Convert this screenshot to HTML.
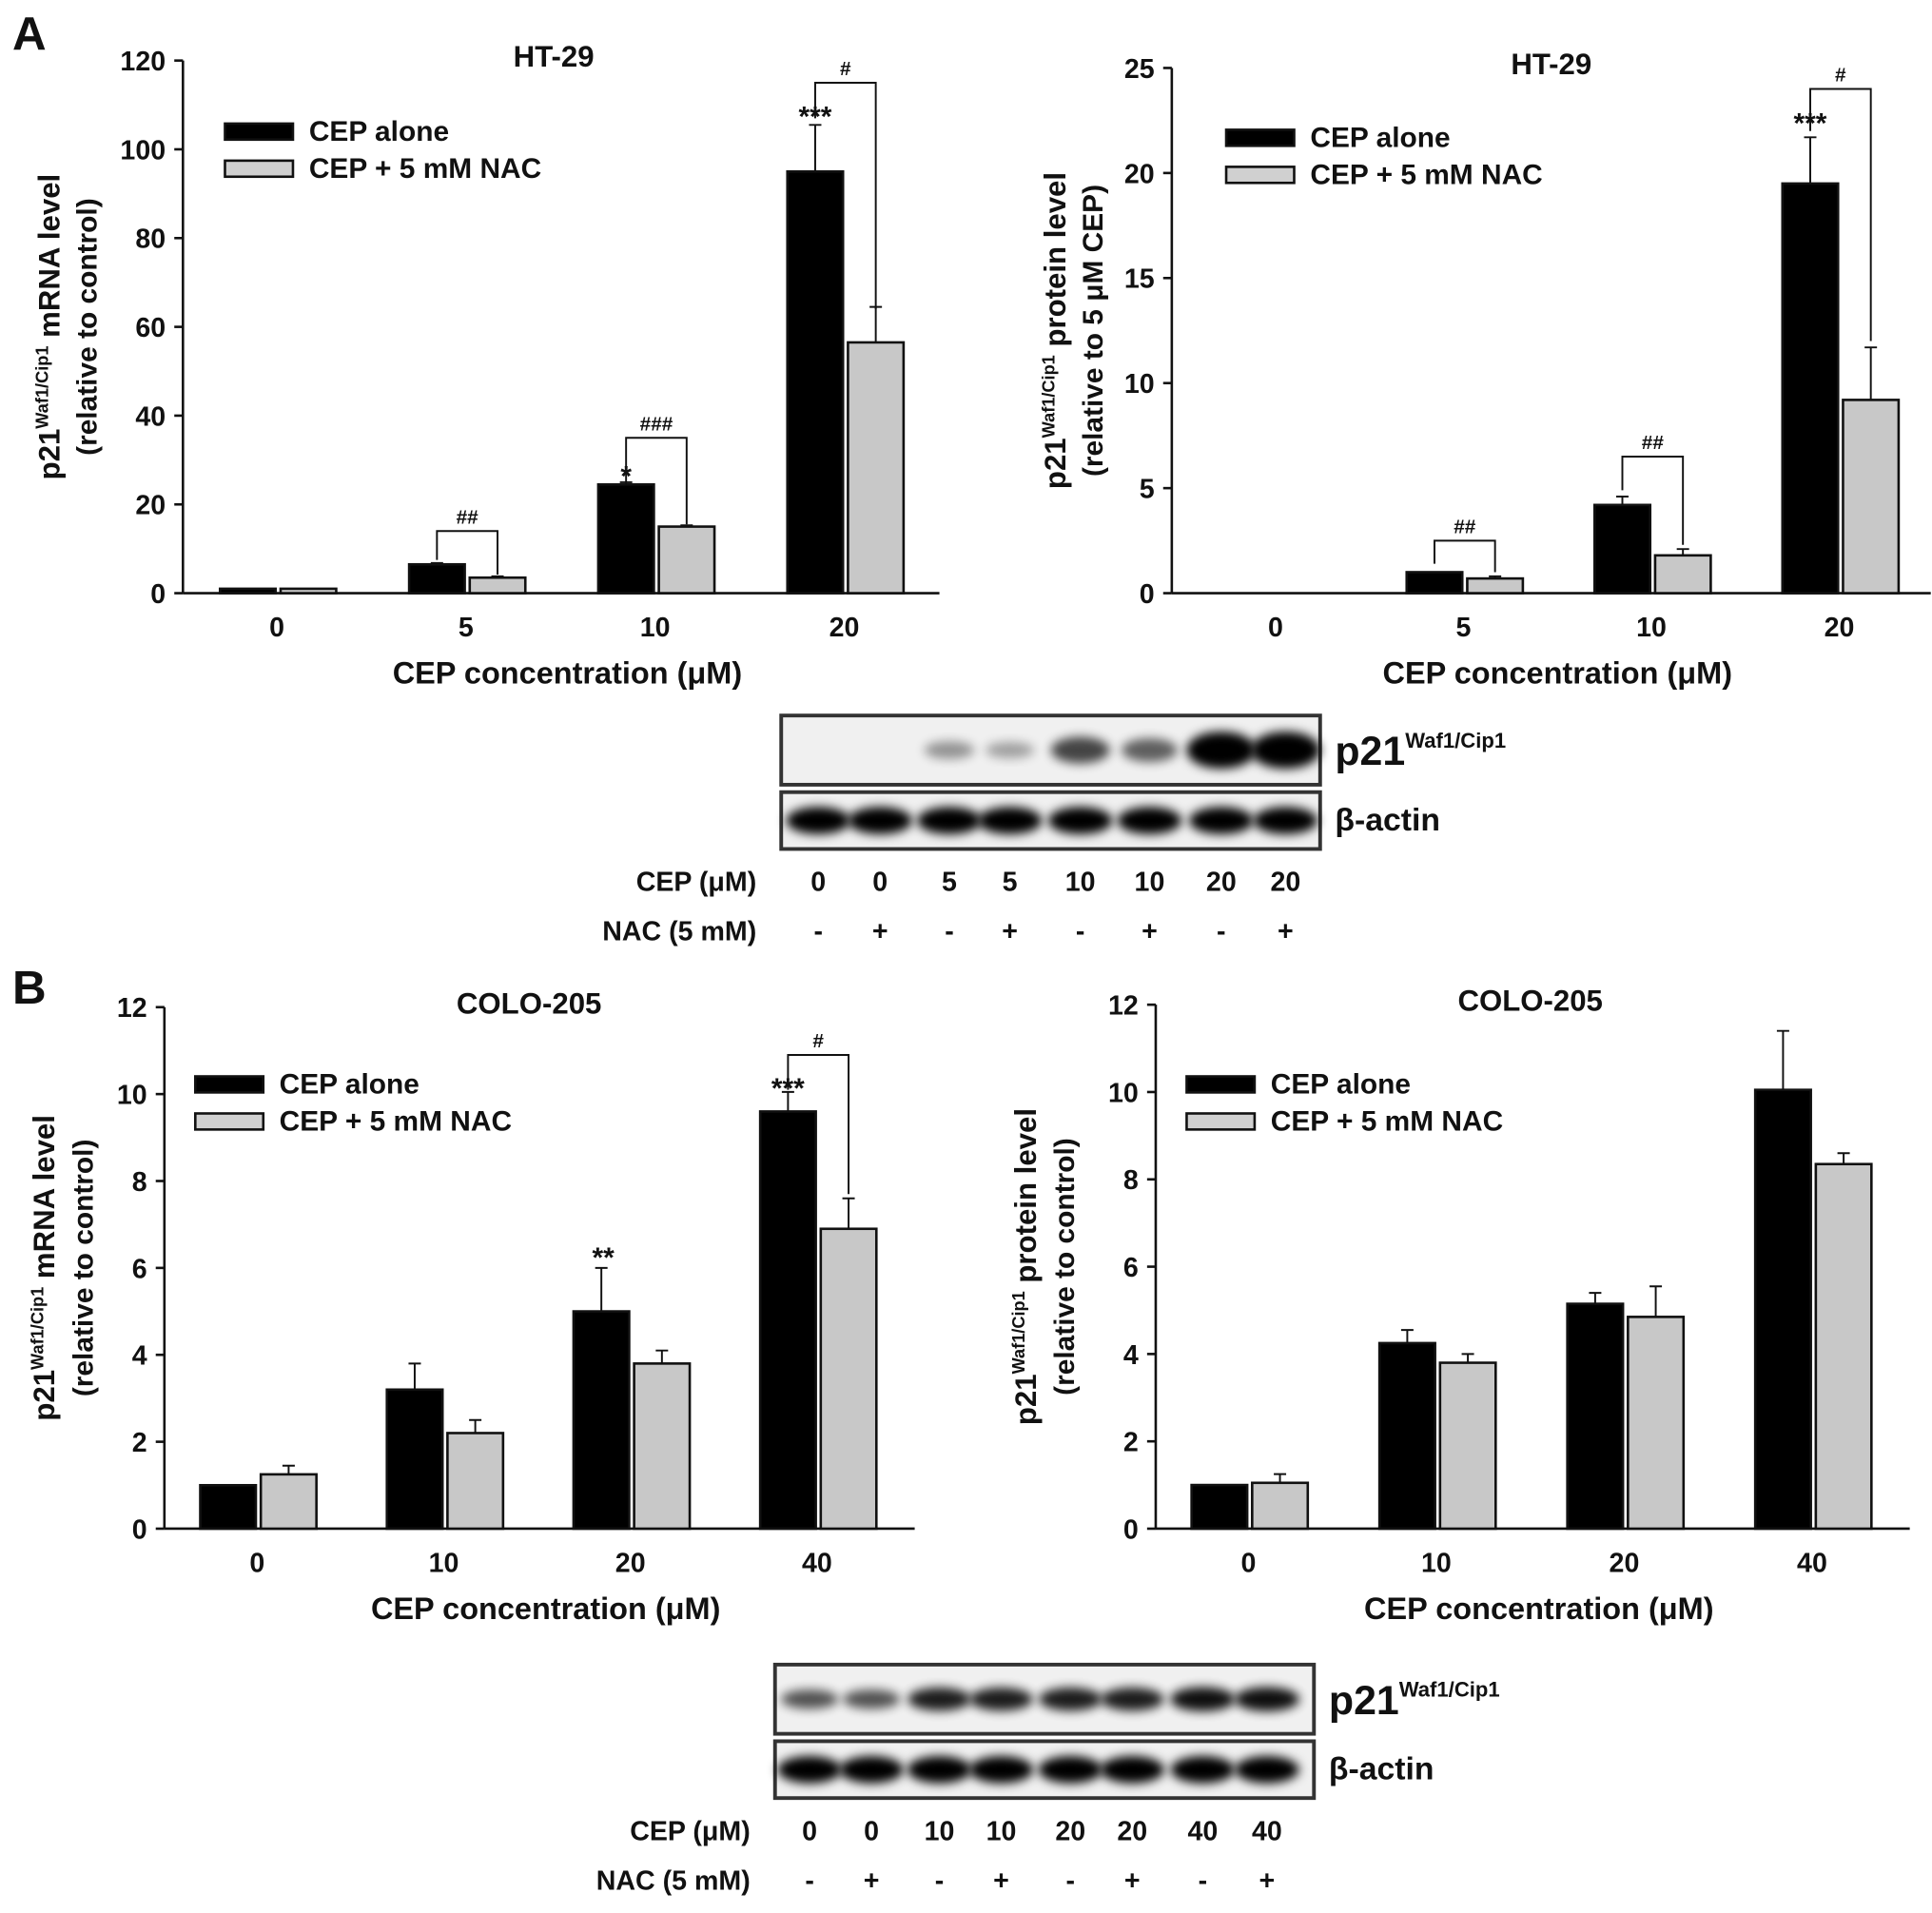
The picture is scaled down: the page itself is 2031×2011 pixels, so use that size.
<!DOCTYPE html>
<html><head><meta charset="utf-8"><style>
html,body{margin:0;padding:0;background:#fff}
svg{display:block}
text{font-family:"Liberation Sans",Arial,sans-serif;font-weight:bold;fill:#111}
</style></head><body>
<svg id="fig" xmlns="http://www.w3.org/2000/svg" width="2031" height="2011" viewBox="0 0 1563 1548" preserveAspectRatio="none">
<defs><filter id="blur" x="-50%" y="-50%" width="200%" height="200%"><feGaussianBlur stdDeviation="4"/></filter></defs>
<text x="10" y="40" font-size="38">A</text>
<text x="10" y="812" font-size="38">B</text>
</svg>
<script>
// ----- data -----
const catsA = ['0','5','10','20'];
const catsB = ['0','10','20','40'];
const aMrnaBlack = [1, 6.5, 24.5, 95];
const aMrnaBlackErr = [0, 0.3, 0.5, 10.5];
const aMrnaGray = [1, 3.5, 15, 56.5];
const aMrnaGrayErr = [0, 0.3, 0.3, 8];
const aProtBlack = [0, 1.0, 4.2, 19.5];
const aProtBlackErr = [0, 0, 0.4, 2.2];
const aProtGray = [0, 0.7, 1.8, 9.2];
const aProtGrayErr = [0, 0.1, 0.3, 2.5];
const bMrnaBlack = [1, 3.2, 5.0, 9.6];
const bMrnaBlackErr = [0, 0.6, 1.0, 0.45];
const bMrnaGray = [1.25, 2.2, 3.8, 6.9];
const bMrnaGrayErr = [0.2, 0.3, 0.3, 0.7];
const bProtBlack = [1.0, 4.25, 5.15, 10.05];
const bProtBlackErr = [0, 0.3, 0.25, 1.35];
const bProtGray = [1.05, 3.8, 4.85, 8.35];
const bProtGrayErr = [0.2, 0.2, 0.7, 0.25];
const ticksA1 = [0,20,40,60,80,100,120];
const ticksA2 = [0,5,10,15,20,25];
const ticksB = [0,2,4,6,8,10,12];
const blotA_p21 = [0, 0, 0.35, 0.3, 0.65, 0.55, 1, 1];
const blotB_p21 = [0.6, 0.6, 0.8, 0.8, 0.8, 0.8, 0.85, 0.85];
const laneCepA = ['0','0','5','5','10','10','20','20'];
const laneCepB = ['0','0','10','10','20','20','40','40'];
const laneNac = ['-','+','-','+','-','+','-','+'];

const NS='http://www.w3.org/2000/svg';
const svg=document.getElementById('fig');
function el(tag,attrs,parent,txt){const e=document.createElementNS(NS,tag);for(const k in attrs)e.setAttribute(k,attrs[k]);if(txt!==undefined)e.textContent=txt;(parent||svg).appendChild(e);return e;}

function chart(o){
  const g=el('g',{});
  
  
  const y=v=>o.y0-(v/o.ymax)*(o.y0-o.ytop);
  const xc=i=>o.c0+i*o.step;
  const ya=el('line',{x1:o.ax,y1:o.ytop,x2:o.ax,y2:o.y0,stroke:'#111','stroke-width':2},g);
  
  const xa=el('line',{x1:o.ax,y1:o.y0,x2:o.axEnd,y2:o.y0,stroke:'#111','stroke-width':2},g);
  
  o.ticks.forEach(t=>{
    el('line',{x1:o.ax-7,y1:y(t),x2:o.ax,y2:y(t),stroke:'#111','stroke-width':2},g);
    const tl=el('text',{x:o.ax-14,y:y(t)+8,'font-size':22,'text-anchor':'end'},g,String(t));
    
  });
  o.cats.forEach((c,i)=>{
    const tl=el('text',{x:xc(i),y:o.y0+35,'font-size':22,'text-anchor':'middle'},g,c);
    
  });
  const xt=el('text',{x:(o.ax+o.axEnd)/2+5,y:o.y0+73,'font-size':25,'text-anchor':'middle'},g,'CEP concentration (μM)');
  
  const tt=el('text',{x:o.titleX,y:o.ytop+5,'font-size':24,'text-anchor':'middle'},g,o.title);
  
  const yt=el('text',{transform:`translate(${o.ax+o.yo1},${(o.ytop+o.y0)/2}) rotate(-90)`,'font-size':24,'text-anchor':'middle'},g);
  
  el('tspan',{},yt,'p21');el('tspan',{'font-size':14,dy:-9},yt,'Waf1/Cip1');el('tspan',{dy:9},yt,' '+o.ylab1);
  const yt2=el('text',{transform:`translate(${o.ax+o.yo2},${(o.ytop+o.y0)/2}) rotate(-90)`,'font-size':23,'text-anchor':'middle'},g,o.ylab2);
  
  const W=45;
  o.cats.forEach((c,i)=>{
    [[o.black,o.blackErr,'#000',-W-1],[o.gray,o.grayErr,'#c8c8c8',3]].forEach(([vals,errs,fill,off],s)=>{
      const v=vals[i];if(v<=0)return;
      const x=xc(i)+off;
      const b=el('rect',{x:x,y:y(v),width:W,height:o.y0-y(v),fill:fill,stroke:'#111','stroke-width':2},g);
      
      if(errs[i]>0){
        const e=el('path',{d:`M${x+W/2},${y(v)} V${y(v+errs[i])} M${x+W/2-5},${y(v+errs[i])} H${x+W/2+5}`,stroke:'#111','stroke-width':1.5,fill:'none'},g);
        
      }
    });
  });
  (o.sig||[]).forEach(s=>{
    const i=s.i,xb=xc(i)-W/2-1,xg=xc(i)+3+W/2;
    const top=y(s.top);
    const p=el('path',{d:`M${xb},${y(s.l)} V${top} H${xg} V${y(s.r)}`,stroke:'#111','stroke-width':1.5,fill:'none'},g);
    
    const t=el('text',{x:(xb+xg)/2,y:top-6,'font-size':16,'text-anchor':'middle'},g,s.hash);
    
    if(s.star){const st=el('text',{x:xb,y:y(s.starY)+10,'font-size':23,'text-anchor':'middle'},g,s.star);
      }
  });
  if(o.legend){
    const [lx,ly]=o.legend;
    const l=el('g',{},g);
    el('rect',{x:lx,y:ly,width:55,height:13,fill:'#000',stroke:'#111','stroke-width':2},l);
    el('text',{x:lx+68,y:ly+14,'font-size':23},l,'CEP alone');
    el('rect',{x:lx,y:ly+30,width:55,height:13,fill:'#d0d0d0',stroke:'#111','stroke-width':2},l);
    el('text',{x:lx+68,y:ly+44,'font-size':23},l,'CEP + 5 mM NAC');
  }
}

chart({name:'chart-a-mrna',ax:148,axEnd:760,y0:480,ytop:49,ymax:120,c0:224,step:153,cats:catsA,ticks:ticksA1,
  black:aMrnaBlack,blackErr:aMrnaBlackErr,gray:aMrnaGray,grayErr:aMrnaGrayErr,title:'HT-29',titleX:448,
  ylab1:'mRNA level',ylab2:'(relative to control)',legend:[182,100],yo1:-100,yo2:-70,
  sig:[{i:1,l:7.5,r:4.2,top:14,hash:'##'},{i:2,l:25,r:15.5,top:35,hash:'###',star:'*',starY:27},{i:3,l:107,r:64,top:115,hash:'#',star:'***',starY:108}]});
chart({name:'chart-a-protein',ax:948,axEnd:1562,y0:480,ytop:55,ymax:25,c0:1032,step:152,cats:catsA,ticks:ticksA2,
  black:aProtBlack,blackErr:aProtBlackErr,gray:aProtGray,grayErr:aProtGrayErr,title:'HT-29',titleX:1255,
  ylab1:'protein level',ylab2:'(relative to 5 μM CEP)',legend:[992,105],yo1:-86,yo2:-56,
  sig:[{i:1,l:1.4,r:1.0,top:2.5,hash:'##'},{i:2,l:4.9,r:2.3,top:6.5,hash:'##'},{i:3,l:22,r:12,top:24,hash:'#',star:'***',starY:22.5}]});
chart({name:'chart-b-mrna',ax:133,axEnd:740,y0:1237,ytop:815,ymax:12,c0:208,step:151,cats:catsB,ticks:ticksB,
  black:bMrnaBlack,blackErr:bMrnaBlackErr,gray:bMrnaGray,grayErr:bMrnaGrayErr,title:'COLO-205',titleX:428,
  ylab1:'mRNA level',ylab2:'(relative to control)',legend:[158,871],yo1:-89,yo2:-58,
  sig:[{i:3,l:10.1,r:7.7,top:10.9,hash:'#',star:'***',starY:10.2}]});
chart({name:'chart-b-protein',ax:935,axEnd:1545,y0:1237,ytop:813,ymax:12,c0:1010,step:152,cats:catsB,ticks:ticksB,
  black:bProtBlack,blackErr:bProtBlackErr,gray:bProtGray,grayErr:bProtGrayErr,title:'COLO-205',titleX:1238,
  ylab1:'protein level',ylab2:'(relative to control)',legend:[960,871],yo1:-97,yo2:-66});
(function(){const t=el('text',{x:488,y:1237-6.3*35.17+10,'font-size':23,'text-anchor':'middle'},svg,'**');
})();

function blot(o){
  const g=el('g',{});
  const r1=el('rect',{x:o.x,y:o.y,width:o.w,height:56,fill:'#f0f0f0',stroke:'#333','stroke-width':3},g);
  
  const r2=el('rect',{x:o.x,y:o.y+62,width:o.w,height:46,fill:'#f0f0f0',stroke:'#333','stroke-width':3},g);
  
  o.lanes.forEach((lx,i)=>{
    const a=o.p21[i];
    if(a>0){const e=el('ellipse',{cx:lx,cy:o.y+28,rx:16+a*12,ry:3+a*o.bh,fill:'#000',opacity:Math.min(1,a*1.1),filter:'url(#blur)'},g);
      }
    const b=el('ellipse',{cx:lx,cy:o.y+85,rx:26,ry:11,fill:'#000',filter:'url(#blur)'},g);
    
    el('text',{x:lx,y:o.y+142,'font-size':22,'text-anchor':'middle'},g,o.cep[i]);
    el('text',{x:lx,y:o.y+182,'font-size':22,'text-anchor':'middle'},g,laneNac[i]);
  });
  const t=el('text',{x:o.x+o.w+12,y:o.y+40,'font-size':33},g);el('tspan',{},t,'p21');el('tspan',{'font-size':17,dy:-14},t,'Waf1/Cip1');
  el('text',{x:o.x+o.w+12,y:o.y+93,'font-size':26},g,'β-actin');
  el('text',{x:o.x-20,y:o.y+142,'font-size':22,'text-anchor':'end'},g,'CEP (μM)');
  el('text',{x:o.x-20,y:o.y+182,'font-size':22,'text-anchor':'end'},g,'NAC (5 mM)');
}
blot({name:'western-blot-a',x:632,y:579,w:436,lanes:[662,712,768,817,874,930,988,1040],p21:blotA_p21,cep:laneCepA,bh:12});
blot({name:'western-blot-b',x:627,y:1347,w:436,lanes:[655,705,760,810,866,916,973,1025],p21:blotB_p21,cep:laneCepB,bh:8});
</script>
</body></html>
